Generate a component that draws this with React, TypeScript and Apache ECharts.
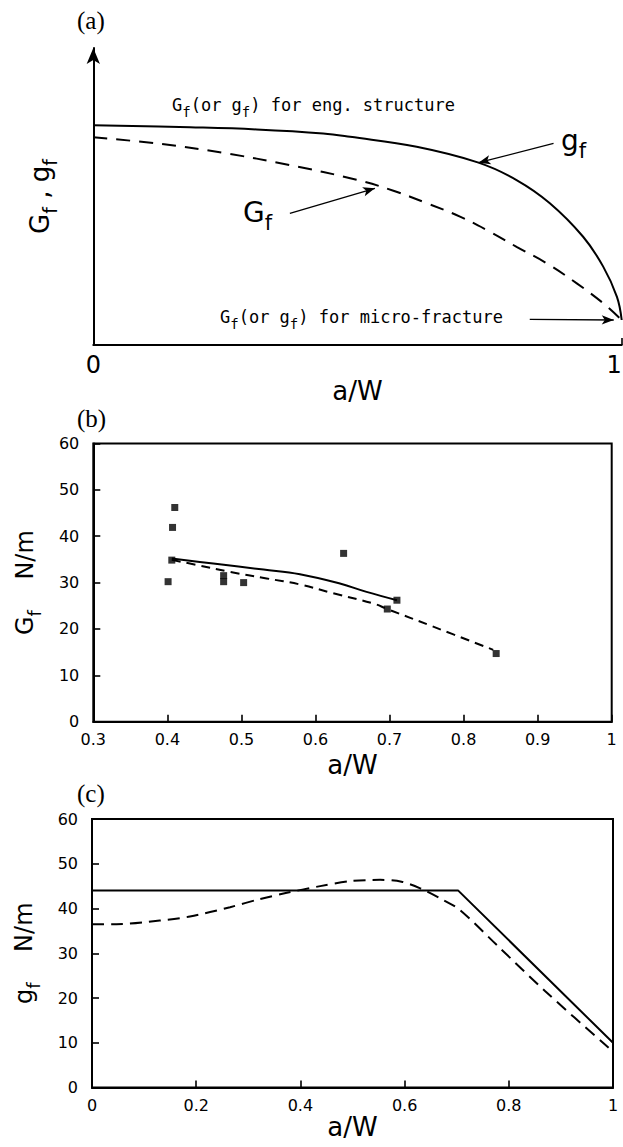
import React, { useEffect, useRef } from "react";
import * as echarts from "echarts";

// Panel (a) – schematic curves (y in arbitrary units, 0..100)
const A_GSMALL_X = [0, 0.183, 0.309, 0.435, 0.486, 0.612, 0.729, 0.801, 0.864, 0.927, 0.965, 0.991, 1.0];
const A_GSMALL_Y = [72.1, 71.4, 70.7, 69.4, 68.3, 65.0, 59.8, 54.1, 46.5, 35.5, 25.7, 15.8, 8.2];
const A_GBIG_X = [0, 0.12, 0.246, 0.372, 0.498, 0.568, 0.631, 0.694, 0.751, 0.801, 0.858, 0.915, 0.965, 1.0];
const A_GBIG_Y = [68.1, 66.1, 63.0, 59.0, 54.2, 50.6, 46.5, 42.1, 37.1, 32.2, 26.8, 20.2, 13.7, 8.2];
const A_TICKS = ["0", "1"];

// Panel (b) – measured Gf (N/m) vs a/W
const B_PTS_X = [0.41, 0.407, 0.406, 0.401, 0.476, 0.476, 0.503, 0.638, 0.697, 0.71, 0.844];
const B_PTS_Y = [46.2, 41.9, 34.85, 30.2, 31.5, 30.2, 30.0, 36.3, 24.3, 26.2, 14.7];
const B_SOLID_X = [0.406, 0.462, 0.53, 0.579, 0.633, 0.669, 0.71];
const B_SOLID_Y = [35.2, 34.1, 32.8, 31.8, 29.8, 28.0, 26.2];
const B_DASH_X = [0.406, 0.44, 0.485, 0.534, 0.579, 0.624, 0.678, 0.697, 0.759, 0.84];
const B_DASH_Y = [34.9, 33.8, 32.3, 30.9, 29.6, 27.7, 25.5, 24.3, 20.5, 15.5];

// Panel (c) – local fracture energy gf (N/m) vs a/W
const C_SOLID_X = [0, 0.703, 1.0];
const C_SOLID_Y = [44, 44, 10];
const C_DASH_X = [0, 0.047, 0.13, 0.188, 0.265, 0.322, 0.374, 0.438, 0.495, 0.553, 0.594, 0.63, 0.674, 0.706, 0.78, 0.87, 1.0];
const C_DASH_Y = [36.5, 36.5, 37.3, 38.2, 40.3, 42.1, 43.5, 45.0, 46.1, 46.4, 46.0, 44.5, 41.9, 39.7, 31.5, 21.5, 8.0];

const zip = (xs: number[], ys: number[]) => xs.map((x, i) => [x, ys[i]]);

const SANS = "DejaVu Sans";
const MONO = "DejaVu Sans Mono";
const SERIF = "Liberation Serif";
const BLACK = "#000";

const richBig = (size: number, sub: number) => ({
  n: { fontFamily: SANS, fontSize: size, lineHeight: size + 4, verticalAlign: "top", color: BLACK },
  s: { fontFamily: SANS, fontSize: sub, lineHeight: sub, padding: [Math.round(size * 0.5), 0, 0, 0], verticalAlign: "top", color: BLACK },
});
const richMono = {
  n: { fontFamily: MONO, fontSize: 17, lineHeight: 20, verticalAlign: "top", color: BLACK },
  s: { fontFamily: MONO, fontSize: 14, lineHeight: 14, padding: [9, 0, 0, 0], verticalAlign: "top", color: BLACK },
};

export default function App() {
  const ref = useRef<HTMLDivElement>(null);
  useEffect(() => {
    document.body.style.margin = "0";
    const chart = echarts.init(ref.current!, undefined, { renderer: "svg" });
    const axisLineStyle = { color: BLACK, width: 2 };
    const tickStyle = { color: BLACK, width: 1.6 };
    const labelStyle = (size: number, margin: number) => ({ fontSize: size, color: BLACK, fontFamily: SANS, margin });
    const xName = (gap: number) => ({
      name: "a/W",
      nameLocation: "middle",
      nameGap: gap,
      nameTextStyle: { fontFamily: SANS, fontSize: 26, color: BLACK },
    });
    const panelLabel = (text: string, y: number) => ({
      type: "text", x: 77, y,
      style: { text, fontFamily: SERIF, fontSize: 25, fill: BLACK, verticalAlign: "middle" },
    });

    const option: any = {
      animation: false,
      backgroundColor: "#fff",
      grid: [
        { left: 93.3, top: 48, width: 528.4, height: 297, show: false, outerBoundsMode: "none" },
        { left: 93.3, top: 443.5, width: 518.4, height: 278.2, show: true, borderColor: BLACK, borderWidth: 2, outerBoundsMode: "none" },
        { left: 92, top: 819, width: 521, height: 268.5, show: true, borderColor: BLACK, borderWidth: 2, outerBoundsMode: "none" },
      ],
      xAxis: [
        {
          gridIndex: 0, type: "value", min: 0, max: 1, interval: 1,
          axisLine: { show: true, lineStyle: axisLineStyle },
          axisTick: { show: true, inside: true, length: 7, lineStyle: tickStyle },
          axisLabel: { ...labelStyle(24, 8), alignMaxLabel: "right", formatter: (v: number) => A_TICKS[Math.round(v)] },
          splitLine: { show: false },
          ...xName(24),
        },
        {
          gridIndex: 1, type: "value", min: 0.3, max: 1, interval: 0.1,
          axisLine: { show: true, lineStyle: axisLineStyle },
          axisTick: { show: true, inside: true, length: 7, lineStyle: tickStyle },
          axisLabel: { ...labelStyle(16, 10), formatter: (v: number) => String(Math.round(v * 10) / 10) },
          splitLine: { show: false },
          ...xName(30),
        },
        {
          gridIndex: 2, type: "value", min: 0, max: 1, interval: 0.2,
          axisLine: { show: true, lineStyle: axisLineStyle },
          axisTick: { show: true, inside: true, length: 7, lineStyle: tickStyle },
          axisLabel: { ...labelStyle(16, 10), formatter: (v: number) => String(Math.round(v * 10) / 10) },
          splitLine: { show: false },
          ...xName(26),
        },
      ],
      yAxis: [
        {
          gridIndex: 0, type: "value", min: 0, max: 97.4,
          axisLine: { show: true, symbol: ["none", "arrow"], symbolSize: [10, 16], lineStyle: axisLineStyle },
          axisTick: { show: false },
          axisLabel: { show: false },
          splitLine: { show: false },
          name: "{n|G}{s|f}{n| , g}{s|f}",
          nameLocation: "middle",
          nameGap: 36,
          nameTextStyle: { rich: richBig(26, 19) },
        },
        {
          gridIndex: 1, type: "value", min: 0, max: 60, interval: 10,
          axisLine: { show: true, lineStyle: axisLineStyle },
          axisTick: { show: true, inside: true, length: 7, lineStyle: tickStyle },
          axisLabel: labelStyle(16, 14),
          splitLine: { show: false },
          name: "{n|G}{s|f}{n|    N/m}",
          nameLocation: "middle",
          nameGap: 52,
          nameTextStyle: { rich: richBig(24, 18) },
        },
        {
          gridIndex: 2, type: "value", min: 0, max: 60, interval: 10,
          axisLine: { show: true, lineStyle: axisLineStyle },
          axisTick: { show: true, inside: true, length: 7, lineStyle: tickStyle },
          axisLabel: labelStyle(16, 14),
          splitLine: { show: false },
          name: "{n|g}{s|f}{n|    N/m}",
          nameLocation: "middle",
          nameGap: 52,
          nameTextStyle: { rich: richBig(24, 18) },
        },
      ],
      series: [
        {
          name: "gf (a)", type: "line", xAxisIndex: 0, yAxisIndex: 0,
          data: zip(A_GSMALL_X, A_GSMALL_Y), smooth: 0.4, showSymbol: false,
          lineStyle: { color: BLACK, width: 2 },
          markLine: {
            silent: true, symbol: ["none", "arrow"], symbolSize: [7, 12],
            lineStyle: { color: BLACK, width: 1.3, type: "solid" },
            label: { show: false }, emphasis: { disabled: true },
            data: [
              [{ coord: [0.871, 66.1] }, { coord: [0.729, 59.8] }],
              [{ coord: [0.372, 43.2] }, { coord: [0.533, 51.4] }],
              [{ coord: [0.826, 8.4] }, { coord: [0.985, 8.2] }],
            ],
          },
        },
        {
          name: "Gf (a)", type: "line", xAxisIndex: 0, yAxisIndex: 0,
          data: zip(A_GBIG_X, A_GBIG_Y), smooth: 0.4, showSymbol: false,
          lineStyle: { color: BLACK, width: 2, type: [14, 9] },
        },
        {
          name: "test points", type: "scatter", xAxisIndex: 1, yAxisIndex: 1,
          data: zip(B_PTS_X, B_PTS_Y), symbol: "rect", symbolSize: 7,
          itemStyle: { color: BLACK },
        },
        {
          name: "Gf model solid", type: "line", xAxisIndex: 1, yAxisIndex: 1,
          data: zip(B_SOLID_X, B_SOLID_Y), smooth: 0.4, showSymbol: false,
          lineStyle: { color: BLACK, width: 2 },
        },
        {
          name: "Gf model dashed", type: "line", xAxisIndex: 1, yAxisIndex: 1,
          data: zip(B_DASH_X, B_DASH_Y), smooth: 0.4, showSymbol: false,
          lineStyle: { color: BLACK, width: 2, type: [9, 6] },
        },
        {
          name: "gf solid", type: "line", xAxisIndex: 2, yAxisIndex: 2,
          data: zip(C_SOLID_X, C_SOLID_Y), showSymbol: false,
          lineStyle: { color: BLACK, width: 2 },
        },
        {
          name: "gf dashed", type: "line", xAxisIndex: 2, yAxisIndex: 2,
          data: zip(C_DASH_X, C_DASH_Y), smooth: 0.3, showSymbol: false,
          lineStyle: { color: BLACK, width: 2, type: [12, 7] },
        },
      ],
      graphic: [
        panelLabel("(a)", 20),
        panelLabel("(b)", 418),
        panelLabel("(c)", 793),
        {
          type: "text", x: 172, y: 96,
          style: { text: "{n|G}{s|f}{n|(or g}{s|f}{n|) for eng. structure}", rich: richMono, fill: BLACK },
        },
        {
          type: "text", x: 220, y: 308,
          style: { text: "{n|G}{s|f}{n|(or g}{s|f}{n|) for micro-fracture}", rich: richMono, fill: BLACK },
        },
        {
          type: "text", x: 561, y: 126,
          style: { text: "{n|g}{s|f}", rich: richBig(28, 21), fill: BLACK },
        },
        {
          type: "text", x: 243, y: 198,
          style: { text: "{n|G}{s|f}", rich: richBig(28, 21), fill: BLACK },
        },
      ],
    };
    chart.setOption(option);
    return () => chart.dispose();
  }, []);
  return <div ref={ref} style={{ width: 623, height: 1147 }} />;
}
